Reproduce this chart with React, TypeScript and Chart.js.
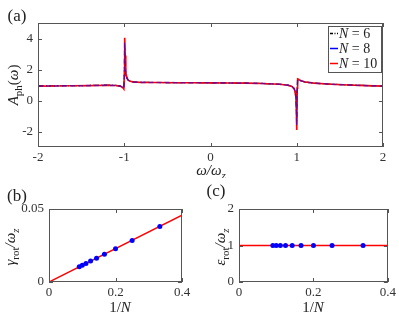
import React, { useEffect, useRef } from "react";
import { Chart, registerables } from "chart.js";
Chart.register(...registerables);

// ---------- data ----------
const omega = [-2, -1.8, -1.6, -1.4, -1.2, -1.1, -1.05, -1.03, -1.015, -1.005, -1.0, -0.995, -0.99, -0.985, -0.98, -0.97, -0.96, -0.95, -0.93, -0.9, -0.85, -0.8, -0.6, -0.4, -0.2, 0, 0.2, 0.4, 0.6, 0.8, 0.9, 0.95, 0.97, 0.98, 0.99, 0.995, 1.0, 1.005, 1.01, 1.02, 1.03, 1.05, 1.08, 1.1, 1.2, 1.4, 1.6, 1.8, 2];
const A_N6 = [0.94, 0.95, 0.96, 0.97, 0.99, 0.98, 0.94, 0.9, 0.85, 0.78, 1.4, 3.4, 2.7, 2.0, 1.7, 1.46, 1.35, 1.29, 1.24, 1.2, 1.18, 1.17, 1.16, 1.15, 1.15, 1.14, 1.13, 1.12, 1.1, 1.05, 0.99, 0.9, 0.78, 0.65, 0.3, -0.3, -1.3, 0.7, 1.3, 1.34, 1.31, 1.26, 1.21, 1.19, 1.12, 1.05, 1.0, 0.97, 0.94];
const A_N8 = [0.93, 0.94, 0.95, 0.96, 0.98, 0.97, 0.93, 0.89, 0.83, 0.76, 1.5, 3.75, 2.8, 2.05, 1.72, 1.47, 1.36, 1.3, 1.24, 1.2, 1.18, 1.17, 1.16, 1.15, 1.15, 1.14, 1.13, 1.12, 1.1, 1.05, 0.98, 0.89, 0.76, 0.62, 0.25, -0.45, -1.6, 0.75, 1.35, 1.36, 1.32, 1.27, 1.22, 1.19, 1.12, 1.05, 1.0, 0.96, 0.93];
const A_N10 = [0.93, 0.94, 0.95, 0.96, 0.98, 0.97, 0.93, 0.88, 0.82, 0.74, 1.6, 4.05, 2.9, 2.1, 1.75, 1.48, 1.36, 1.3, 1.24, 1.2, 1.18, 1.17, 1.16, 1.15, 1.15, 1.14, 1.13, 1.12, 1.1, 1.05, 0.98, 0.88, 0.75, 0.6, 0.2, -0.6, -1.9, 0.8, 1.4, 1.38, 1.33, 1.27, 1.22, 1.19, 1.12, 1.05, 1.0, 0.96, 0.93];
const xTicksA = [-2, -1, 0, 1, 2];
const yTicksA = [-2, 0, 2, 4];
const legendN = ["6", "8", "10"];

const invN = [0.3333, 0.25, 0.2, 0.1667, 0.1429, 0.125, 0.1111, 0.1, 0.0909];
const gammaRot = [0.038, 0.0285, 0.0228, 0.019, 0.0163, 0.0143, 0.0127, 0.0114, 0.0104];
const epsRot = [1, 1, 1, 1, 1, 1, 1, 1, 1];
const fitX = [0, 0.4];
const gammaFit = [0, 0.0457];
const epsFit = [1, 1];
const xTicksBC = [0, 0.2, 0.4];
const yTicksB = [0, 0.05];
const yTicksC = [0, 1, 2];

// ---------- helpers ----------
const FONT = '"Liberation Serif","DejaVu Serif","Times New Roman",serif';
type Seg = { t: string; it?: boolean; sub?: boolean };

function rich(ctx: CanvasRenderingContext2D, segs: Seg[], x: number, y: number, size: number, rot = 0, align: "center" | "left" = "center") {
  ctx.save();
  ctx.translate(x, y);
  if (rot) ctx.rotate(rot);
  ctx.fillStyle = "#222";
  ctx.textBaseline = "alphabetic";
  ctx.textAlign = "left";
  const f = (s: Seg) => `${s.it ? "italic " : ""}${s.sub ? Math.round(size * 0.7) : size}px ${FONT}`;
  let w = 0;
  for (const s of segs) { ctx.font = f(s); w += ctx.measureText(s.t).width; }
  let cx = align === "center" ? -w / 2 : 0;
  for (const s of segs) {
    ctx.font = f(s);
    ctx.fillText(s.t, cx, size * 0.35 + (s.sub ? size * 0.25 : 0));
    cx += ctx.measureText(s.t).width;
  }
  ctx.restore();
}

function framePlugin(xt: number[], yt: number[], extra: (ctx: CanvasRenderingContext2D) => void) {
  return {
    id: "frame",
    afterDraw(chart: any) {
      const { ctx, chartArea: a, scales } = chart;
      ctx.save();
      ctx.strokeStyle = "#555";
      ctx.lineWidth = 1;
      ctx.strokeRect(Math.round(a.left) + 0.5, Math.round(a.top) + 0.5, Math.round(a.right - a.left) - 1, Math.round(a.bottom - a.top) - 1);
      ctx.beginPath();
      for (const v of xt) {
        const p = Math.round(scales.x.getPixelForValue(v)) + 0.5;
        ctx.moveTo(p, a.bottom); ctx.lineTo(p, a.bottom - 4);
        ctx.moveTo(p, a.top); ctx.lineTo(p, a.top + 4);
      }
      for (const v of yt) {
        const p = Math.round(scales.y.getPixelForValue(v)) + 0.5;
        ctx.moveTo(a.left, p); ctx.lineTo(a.left + 4, p);
        ctx.moveTo(a.right, p); ctx.lineTo(a.right - 4, p);
      }
      ctx.stroke();
      extra(ctx);
      ctx.restore();
    },
  };
}

function scalesFor(xmin: number, xmax: number, ymin: number, ymax: number, xt: number[], yt: number[], yw: number, xh: number) {
  const tickFont = { family: FONT, size: 13 };
  return {
    x: {
      type: "linear" as const, min: xmin, max: xmax,
      grid: { display: false, drawTicks: false }, border: { display: false },
      afterBuildTicks: (s: any) => { s.ticks = xt.map((v) => ({ value: v })); },
      afterFit: (s: any) => { s.height = xh; },
      ticks: { font: tickFont, color: "#333", padding: 3, maxRotation: 0 },
    },
    y: {
      type: "linear" as const, min: ymin, max: ymax,
      grid: { display: false, drawTicks: false }, border: { display: false },
      afterBuildTicks: (s: any) => { s.ticks = yt.map((v) => ({ value: v })); },
      afterFit: (s: any) => { s.width = yw; },
      ticks: { font: tickFont, color: "#333", padding: 5 },
    },
  };
}

const pts = (xs: number[], ys: number[]) => xs.map((x, i) => ({ x, y: ys[i] }));

function useChart(ref: React.RefObject<HTMLCanvasElement>, make: (c: HTMLCanvasElement) => Chart) {
  useEffect(() => {
    let ch: Chart | null = null;
    let dead = false;
    const go = () => { if (!dead && ref.current && !ch) ch = make(ref.current); };
    const fs: any = (document as any).fonts;
    if (fs && fs.load) {
      Promise.all([fs.load(`13px ${FONT}`), fs.load(`italic 13px ${FONT}`)]).then(go, go);
    } else go();
    return () => { dead = true; if (ch) ch.destroy(); };
  }, []);
}

export default function App() {
  const ra = useRef<HTMLCanvasElement>(null);
  const rb = useRef<HTMLCanvasElement>(null);
  const rc = useRef<HTMLCanvasElement>(null);

  useChart(ra, (c) =>
    new Chart(c, {
      type: "line",
      data: {
        datasets: [
          { label: "N = 6", data: pts(omega, A_N6), borderColor: "#000", borderWidth: 1.2, borderDash: [6, 2, 1, 2], pointRadius: 0, order: 3 },
          { label: "N = 8", data: pts(omega, A_N8), borderColor: "rgba(0,0,255,0.5)", borderWidth: 1.6, borderDash: [5, 3], pointRadius: 0, order: 1 },
          { label: "N = 10", data: pts(omega, A_N10), borderColor: "#ff0000", borderWidth: 1.6, pointRadius: 0, order: 2 },
        ],
      },
      options: {
        responsive: false, animation: false, devicePixelRatio: 1,
        layout: { padding: { left: 0, right: 16, top: 23, bottom: 0 } },
        plugins: { legend: { display: false }, tooltip: { enabled: false } },
        scales: scalesFor(-2, 2, -3, 5, xTicksA, yTicksA, 38, 31),
      },
      plugins: [framePlugin(xTicksA, yTicksA, (ctx) => {
        rich(ctx, [{ t: "(a)" }], 17, 15, 17);
        rich(ctx, [{ t: "A", it: true }, { t: "ph", sub: true }, { t: "(" }, { t: "ω", it: true }, { t: ")" }], 13, 85, 15, -Math.PI / 2);
        rich(ctx, [{ t: "ω/ω", it: true }, { t: "z", it: true, sub: true }], 211, 170, 15);
        // legend
        ctx.fillStyle = "#fff";
        ctx.fillRect(328, 26, 53, 46);
        ctx.strokeStyle = "#555";
        ctx.lineWidth = 1;
        ctx.setLineDash([]);
        ctx.strokeRect(328.5, 26.5, 53, 46);
        const cols = ["#000", "#0000ff", "#ff0000"];
        const dashes = [[3, 1.5, 1, 1.5], [], []];
        legendN.forEach((n, i) => {
          const y = 33 + i * 15;
          ctx.strokeStyle = cols[i];
          ctx.lineWidth = 1.5;
          ctx.setLineDash(dashes[i]);
          ctx.beginPath(); ctx.moveTo(330, y + 0.5); ctx.lineTo(338, y + 0.5); ctx.stroke();
          ctx.setLineDash([]);
          rich(ctx, [{ t: "N", it: true }, { t: " = " + n }], 339, y, 14, 0, "left");
        });
      })],
    } as any)
  );

  useChart(rb, (c) =>
    new Chart(c, {
      type: "line",
      data: {
        datasets: [
          { data: pts(invN, gammaRot), showLine: false, pointRadius: 2.5, pointBackgroundColor: "#0000ff", pointBorderWidth: 0, borderColor: "#0000ff", order: 1 },
          { data: pts(fitX, gammaFit), borderColor: "#ff0000", borderWidth: 1.5, pointRadius: 0, order: 2 },
        ],
      },
      options: {
        responsive: false, animation: false, devicePixelRatio: 1,
        layout: { padding: { left: 0, right: 18, top: 31, bottom: 0 } },
        plugins: { legend: { display: false }, tooltip: { enabled: false } },
        scales: scalesFor(0, 0.4, 0, 0.05, xTicksBC, yTicksB, 49, 34),
      },
      plugins: [framePlugin(xTicksBC, yTicksB, (ctx) => {
        rich(ctx, [{ t: "(b)" }], 17, 17, 17);
        rich(ctx, [{ t: "γ", it: true }, { t: "rot", sub: true }, { t: "/ω", it: true }, { t: "z", it: true, sub: true }], 10, 69, 15, -Math.PI / 2);
        rich(ctx, [{ t: "1/" }, { t: "N", it: true }], 120, 129, 15);
      })],
    } as any)
  );

  useChart(rc, (c) =>
    new Chart(c, {
      type: "line",
      data: {
        datasets: [
          { data: pts(invN, epsRot), showLine: false, pointRadius: 2.5, pointBackgroundColor: "#0000ff", pointBorderWidth: 0, borderColor: "#0000ff", order: 1 },
          { data: pts(fitX, epsFit), borderColor: "#ff0000", borderWidth: 1.5, pointRadius: 0, order: 2 },
        ],
      },
      options: {
        responsive: false, animation: false, devicePixelRatio: 1,
        layout: { padding: { left: 0, right: 11, top: 31, bottom: 0 } },
        plugins: { legend: { display: false }, tooltip: { enabled: false } },
        scales: scalesFor(0, 0.4, 0, 2, xTicksBC, yTicksC, 39, 34),
      },
      plugins: [framePlugin(xTicksBC, yTicksC, (ctx) => {
        rich(ctx, [{ t: "(c)" }], 16, 12, 17);
        rich(ctx, [{ t: "ε", it: true }, { t: "rot", sub: true }, { t: "/ω", it: true }, { t: "z", it: true, sub: true }], 20, 69, 15, -Math.PI / 2);
        rich(ctx, [{ t: "1/" }, { t: "N", it: true }], 113, 129, 15);
      })],
    } as any)
  );

  return (
    <div style={{ position: "fixed", left: 0, top: 0, width: 399, height: 316, background: "#fff" }}>
      <canvas ref={ra} width={399} height={178} style={{ position: "absolute", left: 0, top: 0, width: 399, height: 178 }} />
      <canvas ref={rb} width={200} height={138} style={{ position: "absolute", left: 0, top: 178, width: 200, height: 138 }} />
      <canvas ref={rc} width={199} height={138} style={{ position: "absolute", left: 200, top: 178, width: 199, height: 138 }} />
    </div>
  );
}
